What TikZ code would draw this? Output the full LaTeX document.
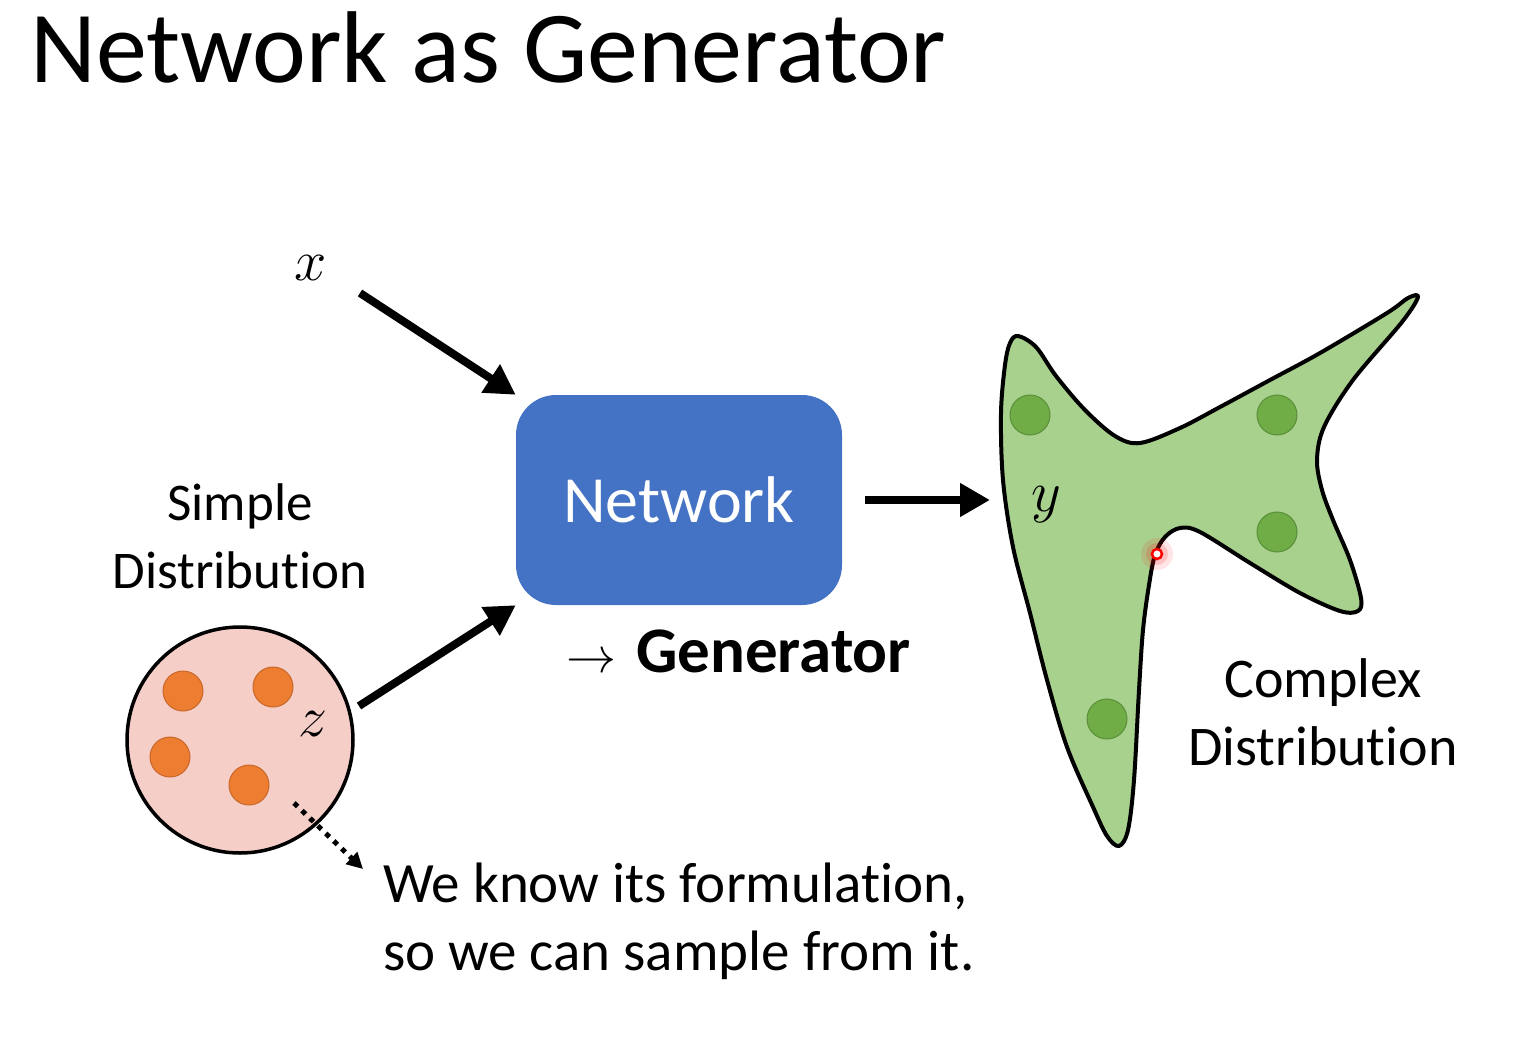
\documentclass[tikz,border=0pt]{standalone}
\usepackage{fix-cm}
\usepackage{fontspec}
\setmainfont{Carlito}[Ligatures=NoCommon]
\usetikzlibrary{arrows.meta}

\definecolor{netblue}{HTML}{4472C4}
\definecolor{poolpink}{RGB}{246,206,200}
\definecolor{dotorange}{HTML}{ED7D31}
\definecolor{dotorangeedge}{HTML}{C9662A}
\definecolor{blobgreen}{HTML}{A9D18E}
\definecolor{dotgreen}{HTML}{70AD47}
\definecolor{dotgreenedge}{HTML}{5A8E38}

\tikzset{
  bigarrow/.style={line width=8pt, -{Triangle[length=30pt,width=32pt]}},
  dotarrow/.style={line width=5pt, dash pattern=on 5pt off 6pt,
    -{Triangle[length=16pt,width=16pt]}},
  label/.style={inner sep=0pt, font=\fontsize{53}{68}\selectfont},
  biglabel/.style={inner sep=0pt, font=\fontsize{56}{68}\selectfont},
  mathlab/.style={inner sep=0pt, font=\fontsize{58}{70}\selectfont},
  orangedot/.style={fill=dotorange, draw=dotorangeedge, line width=1pt},
  greendot/.style={fill=dotgreen, draw=dotgreenedge, line width=1pt},
}

\begin{document}
\begin{tikzpicture}[x=1pt, y=-1pt]
  % canvas
  \fill[white] (0,0) rectangle (1513,1044);
  \useasboundingbox (0,0) rectangle (1513,1044);

  % title
  \node[anchor=base west, inner sep=0pt, font=\fontsize{102}{120}\selectfont]
    (title) at (30,82) {Network as Generator};

  % network block
  \node[rounded corners=40pt, fill=netblue, minimum width=326pt,
        minimum height=210pt, inner sep=0pt, text=white,
        font=\fontsize{66}{80}\selectfont] (net) at (679,500) {Network};
  \node[anchor=base west, inner sep=0pt, font=\fontsize{65}{76}\selectfont]
    (gen) at (566,672)
    {{\fontsize{50}{60}\selectfont$\rightarrow$}\hspace{20pt}\textbf{Generator}};

  % input x
  \node[mathlab] (xlab) at (311,268) {$x$};
  \coordinate (xtail) at (360,293);
  \draw[bigarrow] (xtail) -- (net.north west);

  % simple distribution
  \node[label, align=center, anchor=base] (simple) at (240,588)
    {Simple\\Distribution};
  \node[circle, draw, line width=3.5pt, fill=poolpink, minimum size=226pt,
        inner sep=0pt] (pool) at (240,740) {};
  \filldraw[orangedot] (183,691) circle (20);
  \filldraw[orangedot] (273,687) circle (20);
  \filldraw[orangedot] (170,757) circle (20);
  \filldraw[orangedot] (249,785) circle (20);
  \node[mathlab] (zlab) at (313,724) {$z$};
  \coordinate (ztail) at (359,706);
  \draw[bigarrow] (ztail) -- (net.south west);

  % note on sampling
  \coordinate (dtail) at (294,803);
  \coordinate (dtip) at (363,869);
  \draw[dotarrow] (dtail) -- (dtip);
  \node[inner sep=0pt, font=\fontsize{57}{68}\selectfont, align=left,
        anchor=base west] (note) at (383,970)
    {We know its formulation,\\so we can sample from it.};

  % output arrow
  \coordinate (yin) at (990,500);
  \draw[bigarrow] ([xshift=23pt]net.east) -- (yin);

  % complex distribution blob
  \draw[line width=4pt, fill=blobgreen, line join=round]
    plot[smooth cycle, tension=0.55] coordinates {
      (1018,336) (1036,347) (1056,376) (1085,410) (1115,436) (1140,443)
      (1180,428) (1220,407) (1270,380) (1320,353) (1387,313) (1408,298)
      (1418,297) (1402,322) (1353,380) (1324,427) (1317,460) (1322,490)
      (1333,520) (1350,560) (1361,598) (1358,611) (1340,611) (1300,593)
      (1250,563) (1200,532) (1180,528) (1165,537) (1155,555) (1149,585)
      (1143,630) (1139,690) (1134,780) (1128,830) (1119,846) (1107,836)
      (1093,807) (1067,747) (1047,680) (1030,613) (1013,547) (1003,480)
      (1001,413) (1005,365) (1010,343)
    };
  \filldraw[greendot] (1030,415) circle (20);
  \filldraw[greendot] (1277,415) circle (20);
  \filldraw[greendot] (1277,532) circle (20);
  \filldraw[greendot] (1107,719) circle (20);
  \node[mathlab] (ylab) at (1046,505) {$y$};

  % highlighted point
  \fill[red, opacity=0.10] (1157,554) circle (16);
  \fill[red, opacity=0.15] (1157,554) circle (11);
  \draw[red, line width=2.5pt, fill=white] (1157,554) circle (5);

  \node[biglabel, align=center, anchor=base] (complex) at (1323,765)
    {Complex\\Distribution};
\end{tikzpicture}
\end{document}
